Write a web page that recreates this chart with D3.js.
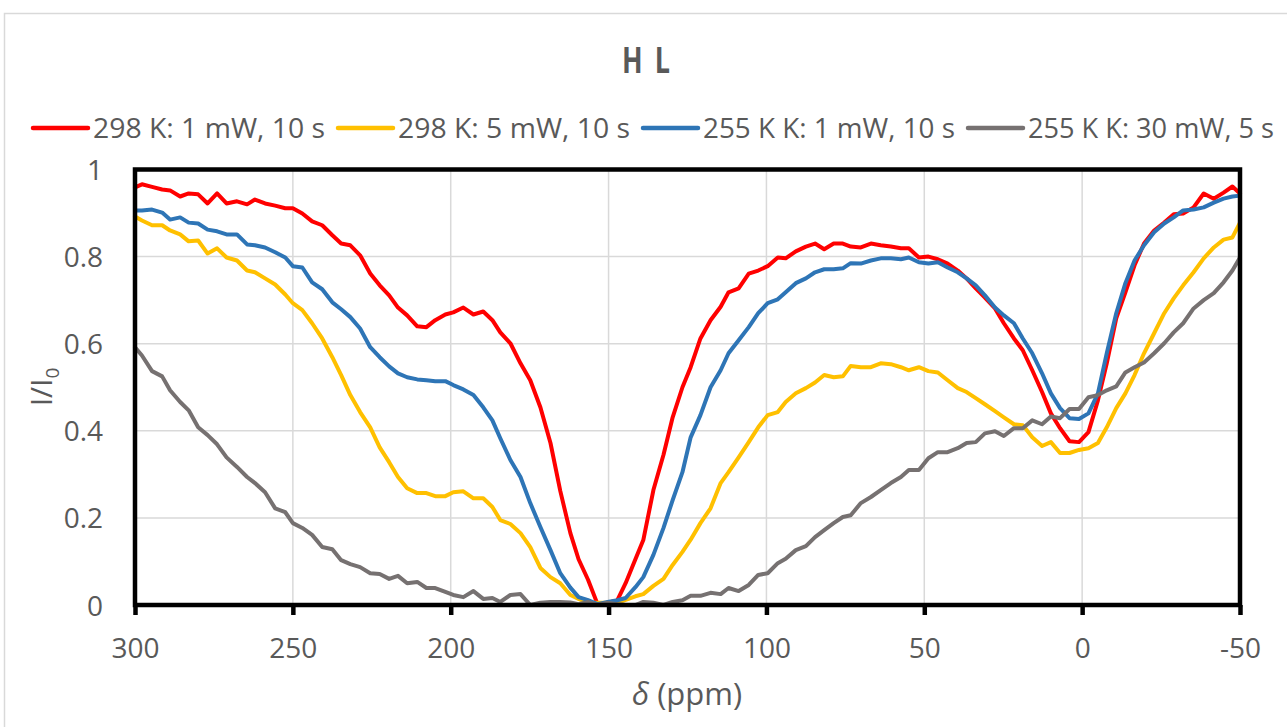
<!DOCTYPE html>
<html>
<head>
<meta charset="utf-8">
<script src="https://cdn.jsdelivr.net/npm/d3@7"></script>
<style>
  html, body { margin: 0; padding: 0; background: #ffffff; }
  svg { display: block; }
  text { font-family: "Open Sans", "Noto Sans", sans-serif; fill: #595959; }
</style>
</head>
<body>
<svg id="chart" width="1287" height="727"></svg>
<script>
// Chemical shift positions (ppm) shared by all four series
const delta = [300, 297.8, 294.6, 291.4, 288.9, 285.7, 283, 280, 277, 274,
  271, 267.7, 264.5, 262, 258.8, 255.6, 252.4, 250, 247, 243.9,
  240.7, 237.5, 234.7, 231.8, 228.7, 225.5, 222.5, 219.5, 216.7, 213.8,
  210.6, 207.7, 204.9, 201.7, 199.2, 196, 192.8, 189.7, 186.8, 184.3,
  181.1, 177.9, 174.8, 171.6, 168.4, 165.3, 162.1, 159.5, 156.5, 153.5,
  150.3, 147.2, 144.6, 141.5, 139, 135.8, 132.6, 129.7, 126.6, 124,
  120.9, 117.7, 114.5, 112, 108.8, 105.6, 102.6, 99.6, 96.4, 93.9,
  90.7, 87.5, 84.6, 81.7, 78.7, 75.8, 73.3, 70.1, 66.9, 63.8,
  60.6, 57.4, 54.9, 51.7, 48.7, 45.7, 42.6, 39.4, 36.6, 33.7,
  30.8, 27.6, 24.8, 21.6, 18.8, 15.8, 12.7, 9.9, 7, 4,
  1, -2, -5, -7.8, -10.8, -13.7, -16.6, -19.6, -22.8, -26,
  -29, -32, -35.3, -38.5, -41.7, -44.8, -47.6, -50];

// I/I0 at 298 K, 1 mW, 10 s
const k298_1mW = [0.959, 0.966, 0.960, 0.954, 0.952, 0.938, 0.945, 0.943, 0.922, 0.945,
  0.922, 0.927, 0.920, 0.931, 0.922, 0.917, 0.911, 0.911, 0.899, 0.881,
  0.872, 0.849, 0.830, 0.826, 0.803, 0.761, 0.734, 0.711, 0.683, 0.665,
  0.640, 0.638, 0.654, 0.667, 0.672, 0.683, 0.667, 0.674, 0.654, 0.626,
  0.601, 0.555, 0.516, 0.454, 0.372, 0.262, 0.165, 0.105, 0.058, 0.002,
  0.005, 0.011, 0.050, 0.105, 0.149, 0.264, 0.345, 0.431, 0.500, 0.546,
  0.612, 0.654, 0.685, 0.718, 0.727, 0.761, 0.768, 0.778, 0.798, 0.796,
  0.812, 0.823, 0.830, 0.817, 0.830, 0.830, 0.823, 0.821, 0.830, 0.826,
  0.823, 0.819, 0.819, 0.798, 0.800, 0.794, 0.784, 0.768, 0.750, 0.727,
  0.706, 0.681, 0.647, 0.612, 0.585, 0.539, 0.489, 0.440, 0.406, 0.376,
  0.374, 0.397, 0.470, 0.555, 0.658, 0.718, 0.780, 0.830, 0.860, 0.878,
  0.897, 0.899, 0.913, 0.945, 0.933, 0.947, 0.961, 0.945];

// I/I0 at 298 K, 5 mW, 10 s
const k298_5mW = [0.892, 0.883, 0.872, 0.872, 0.860, 0.851, 0.835, 0.837, 0.807, 0.819,
  0.798, 0.791, 0.768, 0.764, 0.750, 0.736, 0.713, 0.693, 0.677, 0.647,
  0.612, 0.569, 0.528, 0.482, 0.443, 0.408, 0.362, 0.328, 0.294, 0.268,
  0.257, 0.257, 0.250, 0.250, 0.259, 0.261, 0.245, 0.245, 0.225, 0.195,
  0.186, 0.165, 0.133, 0.085, 0.064, 0.050, 0.023, 0.014, 0.005, 0.005,
  0.005, 0.005, 0.012, 0.020, 0.025, 0.044, 0.060, 0.092, 0.122, 0.150,
  0.188, 0.222, 0.280, 0.305, 0.339, 0.374, 0.408, 0.436, 0.443, 0.466,
  0.486, 0.498, 0.511, 0.528, 0.523, 0.525, 0.549, 0.546, 0.546, 0.555,
  0.553, 0.546, 0.539, 0.546, 0.537, 0.534, 0.516, 0.498, 0.489, 0.475,
  0.461, 0.445, 0.431, 0.415, 0.413, 0.385, 0.365, 0.374, 0.349, 0.349,
  0.356, 0.360, 0.372, 0.408, 0.452, 0.486, 0.528, 0.578, 0.624, 0.670,
  0.704, 0.734, 0.764, 0.796, 0.821, 0.839, 0.844, 0.878];

// I/I0 at 255 K, 1 mW, 10 s
const k255_1mW = [0.906, 0.906, 0.908, 0.901, 0.885, 0.890, 0.878, 0.876, 0.862, 0.858,
  0.851, 0.851, 0.828, 0.826, 0.821, 0.810, 0.798, 0.778, 0.775, 0.741,
  0.725, 0.695, 0.679, 0.661, 0.635, 0.592, 0.569, 0.548, 0.532, 0.523,
  0.518, 0.516, 0.514, 0.514, 0.505, 0.495, 0.482, 0.454, 0.424, 0.383,
  0.333, 0.294, 0.234, 0.179, 0.126, 0.073, 0.040, 0.018, 0.011, 0.002,
  0.007, 0.011, 0.016, 0.041, 0.064, 0.115, 0.177, 0.241, 0.305, 0.385,
  0.436, 0.500, 0.539, 0.578, 0.608, 0.638, 0.670, 0.693, 0.702, 0.718,
  0.739, 0.750, 0.764, 0.771, 0.771, 0.773, 0.785, 0.784, 0.791, 0.796,
  0.796, 0.794, 0.798, 0.787, 0.784, 0.787, 0.775, 0.764, 0.750, 0.734,
  0.711, 0.683, 0.665, 0.647, 0.612, 0.578, 0.532, 0.486, 0.452, 0.429,
  0.427, 0.440, 0.486, 0.578, 0.670, 0.739, 0.791, 0.826, 0.856, 0.876,
  0.890, 0.906, 0.908, 0.913, 0.924, 0.933, 0.938, 0.940];

// I/I0 at 255 K, 30 mW, 5 s
const k255_30mW = [0.592, 0.573, 0.537, 0.525, 0.493, 0.466, 0.447, 0.408, 0.390, 0.369,
  0.339, 0.317, 0.294, 0.280, 0.259, 0.222, 0.213, 0.188, 0.177, 0.161,
  0.133, 0.128, 0.103, 0.094, 0.087, 0.073, 0.071, 0.060, 0.067, 0.050,
  0.053, 0.039, 0.039, 0.030, 0.023, 0.018, 0.032, 0.014, 0.016, 0.007,
  0.023, 0.025, 0.000, 0.005, 0.007, 0.007, 0.006, 0.002, 0.007, 0.000,
  0.005, 0.002, 0.000, 0.000, 0.007, 0.005, 0.000, 0.007, 0.011, 0.021,
  0.021, 0.028, 0.025, 0.039, 0.032, 0.046, 0.069, 0.073, 0.096, 0.106,
  0.126, 0.135, 0.156, 0.172, 0.188, 0.202, 0.206, 0.234, 0.248, 0.264,
  0.280, 0.294, 0.310, 0.310, 0.337, 0.351, 0.351, 0.360, 0.372, 0.374,
  0.394, 0.399, 0.388, 0.406, 0.406, 0.424, 0.415, 0.433, 0.429, 0.450,
  0.450, 0.477, 0.482, 0.493, 0.502, 0.534, 0.546, 0.557, 0.578, 0.601,
  0.626, 0.647, 0.681, 0.700, 0.716, 0.741, 0.768, 0.798];

const seriesNames = ["298 K: 1 mW, 10 s", "298 K: 5 mW, 10 s", "255 K K: 1 mW, 10 s", "255 K K: 30 mW, 5 s"];
const seriesValues = [k298_1mW, k298_5mW, k255_1mW, k255_30mW];
const seriesColors = ["#FF0000", "#FFC000", "#2E75B6", "#767171"];

const xTicks = [300, 250, 200, 150, 100, 50, 0, -50];
const xTickLabels = ["300", "250", "200", "150", "100", "50", "0", "-50"];
const yTicks = [0, 0.2, 0.4, 0.6, 0.8, 1];
const yTickLabels = ["0", "0.2", "0.4", "0.6", "0.8", "1"];

const svg = d3.select("#chart");

// outer chart frame
svg.append("rect")
  .attr("x", 4.5).attr("y", 13.5)
  .attr("width", 1320).attr("height", 760)
  .attr("fill", "#ffffff").attr("stroke", "#d9d9d9").attr("stroke-width", 1.5);

const plot = { left: 135, right: 1240, top: 169.5, bottom: 605 };

const x = d3.scaleLinear().domain([300, -50]).range([plot.left, plot.right]);
const y = d3.scaleLinear().domain([0, 1]).range([plot.bottom, plot.top]);

// gridlines
const grid = svg.append("g");
grid.selectAll("line.v").data(xTicks).join("line")
  .attr("x1", d => x(d)).attr("x2", d => x(d))
  .attr("y1", plot.top).attr("y2", plot.bottom)
  .attr("stroke", "#d9d9d9").attr("stroke-width", 1.5);
grid.selectAll("line.h").data(yTicks).join("line")
  .attr("x1", plot.left).attr("x2", plot.right)
  .attr("y1", d => y(d)).attr("y2", d => y(d))
  .attr("stroke", "#d9d9d9").attr("stroke-width", 1.5);

// series lines
const line = d3.line()
  .x((d, i) => x(delta[i]))
  .y(d => y(d));

svg.append("g").selectAll("path").data(seriesValues).join("path")
  .attr("d", d => line(d))
  .attr("fill", "none")
  .attr("stroke", (d, i) => seriesColors[i])
  .attr("stroke-width", 4)
  .attr("stroke-linejoin", "round")
  .attr("stroke-linecap", "round");

// plot frame
svg.append("rect")
  .attr("x", plot.left).attr("y", plot.top)
  .attr("width", plot.right - plot.left).attr("height", plot.bottom - plot.top)
  .attr("fill", "none").attr("stroke", "#000").attr("stroke-width", 4.5);

// x axis ticks and labels
const xAxis = d3.axisBottom(x)
  .tickValues(xTicks)
  .tickSize(10)
  .tickSizeOuter(0)
  .tickFormat((d, i) => xTickLabels[i]);
const gx = svg.append("g").attr("transform", `translate(0,${plot.bottom})`).call(xAxis);
gx.select(".domain").remove();
gx.selectAll(".tick line").attr("stroke", "#000").attr("stroke-width", 4.5);
gx.selectAll(".tick text")
  .attr("y", 0).attr("dy", 0)
  .attr("transform", "translate(0,53)")
  .style("font-size", "28px").style("font-family", "'Open Sans', sans-serif")
  .attr("fill", "#595959");

// y axis labels
const yAxis = d3.axisLeft(y)
  .tickValues(yTicks)
  .tickSize(0)
  .tickFormat((d, i) => yTickLabels[i]);
const gy = svg.append("g").attr("transform", `translate(103,0)`).call(yAxis);
gy.select(".domain").remove();
gy.selectAll(".tick line").remove();
gy.selectAll(".tick text")
  .attr("x", 0).attr("dy", "0.36em")
  .style("font-size", "28px").style("font-family", "'Open Sans', sans-serif")
  .attr("fill", "#595959");

// title (bold, tall and narrow, with wide letter spacing)
svg.append("text")
  .attr("transform", "translate(652,73) scale(0.75,1)")
  .attr("text-anchor", "middle")
  .style("font-size", "36px").style("font-weight", "bold")
  .style("letter-spacing", "16px")
  .text("HL");

// axis titles
const xt = svg.append("text")
  .attr("x", 687).attr("y", 705)
  .attr("text-anchor", "middle")
  .style("font-size", "31px");
xt.append("tspan").style("font-style", "italic").text("δ");
xt.append("tspan").text(" (ppm)");

const yt = svg.append("text")
  .attr("transform", "translate(52,387) rotate(-90)")
  .attr("text-anchor", "middle")
  .style("font-size", "30px");
yt.append("tspan").text("I/I");
yt.append("tspan").attr("dy", 7).style("font-size", "19px").text("0");

// legend: swatch start and text width for each entry
const legendX = [33, 338, 643, 968];
const legendTextWidth = [232, 232, 252, 246];
const legend = svg.append("g");
seriesNames.forEach((name, i) => {
  const g = legend.append("g").attr("transform", `translate(${legendX[i]},128)`);
  g.append("line").attr("x1", 0).attr("x2", 55).attr("y1", 0).attr("y2", 0)
    .attr("stroke", seriesColors[i]).attr("stroke-width", 4.5).attr("stroke-linecap", "round");
  g.append("text").attr("x", 60).attr("y", 0).attr("dy", "0.36em")
    .attr("textLength", legendTextWidth[i])
    .attr("lengthAdjust", "spacingAndGlyphs")
    .style("font-size", "28px").text(name);
});
</script>
</body>
</html>
